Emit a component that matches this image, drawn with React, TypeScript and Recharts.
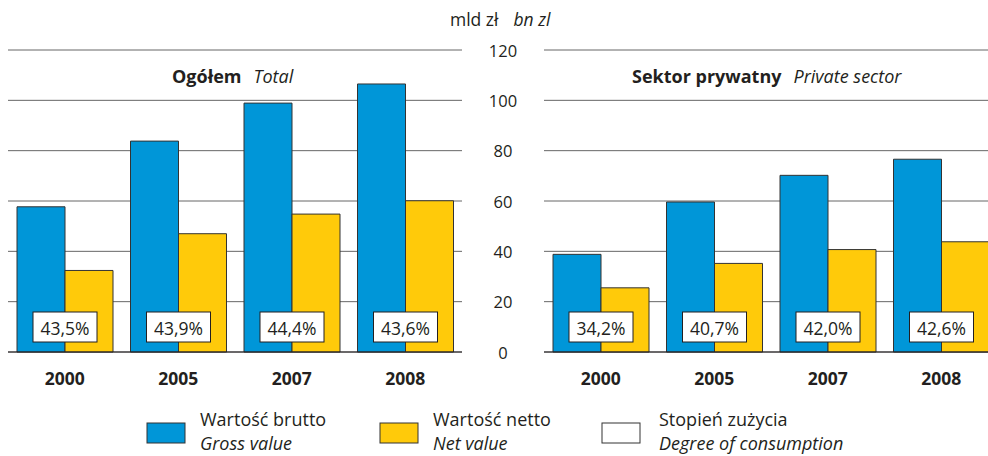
import React from "react";
import { BarChart, Bar, XAxis, YAxis, CartesianGrid, LabelList } from "recharts";

const years = ["2000", "2005", "2007", "2008"];
const totalGross = [57.7, 83.8, 98.9, 106.5];
const totalNet = [32.4, 47.0, 54.8, 60.1];
const totalPct = ["43,5%", "43,9%", "44,4%", "43,6%"];
const privGross = [38.8, 59.6, 70.2, 76.6];
const privNet = [25.5, 35.2, 40.7, 43.8];
const privPct = ["34,2%", "40,7%", "42,0%", "42,6%"];
const yTicks = [0, 20, 40, 60, 80, 100, 120];

const totalData = years.map((y, i) => ({ year: y, gross: totalGross[i], net: totalNet[i], pct: totalPct[i] }));
const privData = years.map((y, i) => ({ year: y, gross: privGross[i], net: privNet[i], pct: privPct[i] }));

const BLUE = "#0096d8";
const YELLOW = "#ffca0a";
const TEXT = "#231f20";
const FONT = "'Open Sans', 'Noto Sans', sans-serif";

const PctLabel = (props: any) => {
  const { x, y, height, value } = props;
  const cx = x;
  const cy = y + height - 25;
  return (
    <g>
      <rect x={cx - 32} y={cy - 15} width={64} height={30} fill="#fff" stroke={TEXT} strokeWidth={1} />
      <text x={cx} y={cy + 1} textAnchor="middle" dominantBaseline="central" fontSize={17.5} fill={TEXT} fontFamily={FONT}>
        {value}
      </text>
    </g>
  );
};

const XTick = (props: any) => {
  const { x, y, payload } = props;
  return (
    <text x={x} y={y + 25} textAnchor="middle" fontSize={17.5} fontWeight="bold" fill={TEXT} fontFamily={FONT}>
      {payload.value}
    </text>
  );
};

const YTick = (props: any) => {
  const { y, payload } = props;
  return (
    <text x={503} y={y} textAnchor="middle" dominantBaseline="central" fontSize={16.5} fill={TEXT} fontFamily={FONT}>
      {payload.value}
    </text>
  );
};

function Panel({ data, showAxis }: { data: any[]; showAxis: boolean }) {
  return (
    <BarChart
      width={showAxis ? 540 : 520}
      height={456}
      data={data}
      margin={showAxis ? { top: 50, right: 0, left: 8, bottom: 0 } : { top: 50, right: 2, left: 64, bottom: 0 }}
      barGap={0}
    >
      <CartesianGrid vertical={false} stroke="#666" strokeWidth={1} />
      <XAxis
        dataKey="year"
        height={104}
        tickLine={false}
        axisLine={{ stroke: TEXT }}
        tick={<XTick />}
        interval={0}
      />
      <YAxis
        orientation="right"
        domain={[0, 120]}
        ticks={yTicks}
        width={78}
        axisLine={false}
        tickLine={false}
        hide={!showAxis}
        tick={<YTick />}
      />
      <Bar dataKey="gross" fill={BLUE} stroke="#333" strokeWidth={1} barSize={48} isAnimationActive={false} />
      <Bar dataKey="net" fill={YELLOW} stroke="#333" strokeWidth={1} barSize={48} isAnimationActive={false}>
        <LabelList dataKey="pct" content={<PctLabel />} />
      </Bar>
    </BarChart>
  );
}

export default function App() {
  return (
    <div style={{ position: "absolute", left: 0, top: 0, width: 988, height: 456, overflow: "hidden", background: "#fff", fontFamily: FONT }}>
      <div style={{ position: "absolute", left: 0, top: 0 }}>
        <Panel data={totalData} showAxis={true} />
      </div>
      <div style={{ position: "absolute", left: 480, top: 0 }}>
        <Panel data={privData} showAxis={false} />
      </div>
      <svg width={988} height={456} style={{ position: "absolute", left: 0, top: 0, pointerEvents: "none" }}>
        <g fontFamily={FONT} fill={TEXT} fontSize={18}>
          <text x={450} y={26} fontSize={17.5}>
            mld zł<tspan dx={15} fontStyle="italic">bn zl</tspan>
          </text>
          <text x={172} y={76} dominantBaseline="central">
            <tspan fontWeight="bold">Ogółem</tspan>
            <tspan dx={12} fontStyle="italic">Total</tspan>
          </text>
          <text x={632} y={76} dominantBaseline="central">
            <tspan fontWeight="bold">Sektor prywatny</tspan>
            <tspan dx={12} fontStyle="italic">Private sector</tspan>
          </text>
          <rect x={147} y={423} width={38} height={20} fill={BLUE} stroke="#333" />
          <text x={200} y={426}>Wartość brutto</text>
          <text x={200} y={450} fontStyle="italic">Gross value</text>
          <rect x={380} y={423} width={38} height={20} fill={YELLOW} stroke="#333" />
          <text x={433} y={426}>Wartość netto</text>
          <text x={433} y={450} fontStyle="italic">Net value</text>
          <rect x={602} y={423} width={38} height={20} fill="#fff" stroke="#333" />
          <text x={659} y={426}>Stopień zużycia</text>
          <text x={659} y={450} fontStyle="italic">Degree of consumption</text>
        </g>
      </svg>
    </div>
  );
}
